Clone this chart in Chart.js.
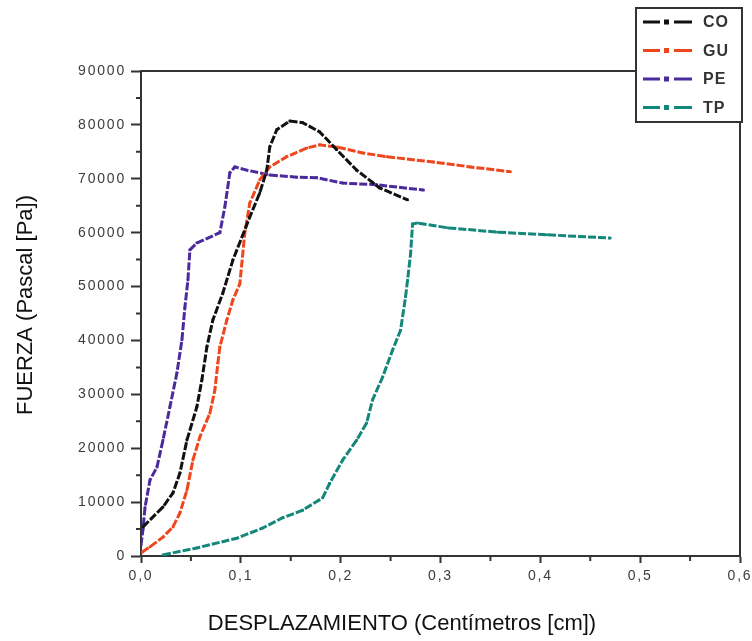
<!DOCTYPE html>
<html>
<head>
<meta charset="utf-8">
<script src="https://cdn.jsdelivr.net/npm/chart.js@4/dist/chart.umd.min.js"></script>
<style>
  html, body { margin: 0; padding: 0; background: #fff; }
  #wrap { width: 752px; height: 641px; position: relative; }
</style>
</head>
<body>
<div id="wrap"><canvas id="c"></canvas></div>
<script>
// desplazamiento (cm) / fuerza (Pa)
const coX = [0.002, 0.022, 0.032, 0.039, 0.046, 0.056, 0.061, 0.066, 0.072, 0.082, 0.092, 0.109, 0.119, 0.126, 0.129, 0.136, 0.149, 0.162, 0.179, 0.196, 0.216, 0.239, 0.267];
const coY = [5400, 9100, 11700, 15400, 21500, 27700, 32700, 38800, 43800, 48800, 54900, 62900, 67400, 71600, 75900, 79100, 80700, 80400, 78700, 75400, 71600, 68300, 66100];

const guX = [0.001, 0.009, 0.022, 0.032, 0.039, 0.046, 0.052, 0.059, 0.069, 0.074, 0.077, 0.079, 0.086, 0.092, 0.099, 0.104, 0.109, 0.119, 0.129, 0.146, 0.166, 0.179, 0.196, 0.222, 0.246, 0.293, 0.33, 0.37];
const guY = [700, 1700, 3500, 5400, 8000, 12200, 17800, 22100, 26500, 30800, 35800, 38800, 43800, 47500, 50500, 60000, 65500, 69800, 72200, 74100, 75700, 76300, 75900, 74800, 74100, 73100, 72200, 71300];

const peX = [0.0, 0.002, 0.004, 0.009, 0.016, 0.022, 0.029, 0.036, 0.041, 0.044, 0.047, 0.049, 0.056, 0.079, 0.084, 0.089, 0.094, 0.106, 0.129, 0.156, 0.176, 0.202, 0.236, 0.283];
const peY = [2000, 5000, 9000, 14100, 16500, 21500, 27700, 34000, 40100, 46200, 51200, 56800, 58100, 60000, 64800, 71100, 72200, 71600, 70700, 70300, 70200, 69200, 68900, 67900];

const tpX = [0.022, 0.056, 0.096, 0.122, 0.142, 0.162, 0.182, 0.189, 0.202, 0.216, 0.226, 0.232, 0.242, 0.252, 0.26, 0.265, 0.267, 0.27, 0.272, 0.277, 0.307, 0.357, 0.407, 0.47];
const tpY = [200, 1500, 3300, 5200, 7100, 8500, 10800, 13500, 17800, 21500, 24700, 29000, 33200, 38200, 41900, 48100, 51200, 56000, 61600, 61800, 60900, 60100, 59600, 59000];

const seriesNames = ['CO', 'GU', 'PE', 'TP'];
const seriesColors = ['#111111', '#f0461e', '#4a2a9c', '#13877a'];
const xTicks = [0, 0.1, 0.2, 0.3, 0.4, 0.5, 0.6];
const yTicks = [0, 10000, 20000, 30000, 40000, 50000, 60000, 70000, 80000, 90000];

const pts = (xs, ys) => xs.map((x, i) => ({ x: x, y: ys[i] }));
const allData = [pts(coX, coY), pts(guX, guY), pts(peX, peY), pts(tpX, tpY)];

const AXIS = '#333';
const FONT = '"Liberation Sans", Arial, sans-serif';
const SPACING = '1.8px';

const framePlugin = {
  id: 'frame',
  beforeLayout(chart) { chart.ctx.letterSpacing = SPACING; },
  beforeDraw(chart) { chart.ctx.letterSpacing = SPACING; },
  afterDraw(chart) {
    const ctx = chart.ctx;
    const xs = chart.scales.x, ys = chart.scales.y;
    const a = chart.chartArea;
    ctx.save();
    ctx.letterSpacing = '0px';
    ctx.strokeStyle = AXIS;
    ctx.lineWidth = 2;
    // minor ticks
    ctx.beginPath();
    for (let v = 0.05; v < 0.6; v += 0.1) {
      const px = xs.getPixelForValue(v);
      ctx.moveTo(px, a.bottom); ctx.lineTo(px, a.bottom + 5);
    }
    for (let v = 5000; v < 90000; v += 10000) {
      const py = ys.getPixelForValue(v);
      ctx.moveTo(a.left, py); ctx.lineTo(a.left - 5, py);
    }
    ctx.stroke();

    // legend box
    const bx = 636, by = 8, bw = 106, bh = 114;
    ctx.fillStyle = '#fff';
    ctx.fillRect(bx, by, bw, bh);
    ctx.strokeRect(bx, by, bw, bh);
    // top and right frame
    ctx.beginPath();
    ctx.moveTo(a.left, a.top); ctx.lineTo(bx, a.top);
    ctx.moveTo(a.right, by + bh); ctx.lineTo(a.right, a.bottom);
    ctx.stroke();

    chart.data.datasets.forEach((ds, i) => {
      const y = 22 + i * 28.5;
      ctx.strokeStyle = ds.borderColor;
      ctx.lineWidth = 3;
      ctx.beginPath();
      ctx.moveTo(643, y); ctx.lineTo(660, y);
      ctx.moveTo(674, y); ctx.lineTo(692, y);
      ctx.stroke();
      ctx.fillStyle = ds.borderColor;
      ctx.fillRect(664, y - 2.5, 5, 5);
      ctx.fillStyle = '#333';
      ctx.font = 'bold 16px ' + FONT;
      ctx.textBaseline = 'middle';
      ctx.textAlign = 'left';
      ctx.letterSpacing = '1px';
      ctx.fillText(ds.label, 703, y + 1);
      ctx.letterSpacing = '0px';
    });

    // axis titles
    ctx.fillStyle = '#111';
    ctx.font = '22px ' + FONT;
    ctx.textAlign = 'center';
    ctx.textBaseline = 'alphabetic';
    ctx.fillText('DESPLAZAMIENTO (Centímetros [cm])', 402, 630);
    ctx.translate(32, 305);
    ctx.rotate(-Math.PI / 2);
    ctx.fillText('FUERZA (Pascal [Pa])', 0, 0);
    ctx.restore();
  }
};

new Chart(document.getElementById('c'), {
  type: 'line',
  data: {
    datasets: allData.map((d, i) => ({
      label: seriesNames[i],
      data: d,
      borderColor: seriesColors[i],
      backgroundColor: seriesColors[i],
      borderWidth: 3,
      borderDash: [8, 2],
      pointStyle: 'rect',
      pointRadius: 1.8,
      pointBorderWidth: 0,
      tension: 0,
      fill: false
    }))
  },
  options: {
    responsive: true,
    maintainAspectRatio: false,
    animation: false,
    layout: { padding: { left: 0, right: 12, top: 71, bottom: 0 } },
    plugins: { legend: { display: false }, tooltip: { enabled: false } },
    scales: {
      x: {
        type: 'linear',
        min: 0, max: 0.6,
        afterBuildTicks: s => { s.ticks = xTicks.map(v => ({ value: v })); },
        afterFit: s => { s.height = 85; s.paddingLeft = 0; s.paddingRight = 0; },
        grid: { drawOnChartArea: false, drawTicks: true, tickLength: 7, tickWidth: 2, color: AXIS },
        border: { display: true, color: AXIS, width: 2 },
        ticks: {
          color: '#3c3c3c',
          font: { family: FONT, size: 14 },
          padding: 5,
          maxRotation: 0,
          callback: v => v.toFixed(1).replace('.', ',')
        }
      },
      y: {
        min: 0, max: 90000,
        afterBuildTicks: s => { s.ticks = yTicks.map(v => ({ value: v })); },
        afterFit: s => { s.width = 141; s.paddingTop = 0; s.paddingBottom = 0; },
        grid: { drawOnChartArea: false, drawTicks: true, tickLength: 10, tickWidth: 2, color: AXIS },
        border: { display: true, color: AXIS, width: 2 },
        ticks: {
          color: '#3c3c3c',
          font: { family: FONT, size: 14 },
          padding: 5,
          callback: v => String(v)
        }
      }
    }
  },
  plugins: [framePlugin]
});
</script>
</body>
</html>
